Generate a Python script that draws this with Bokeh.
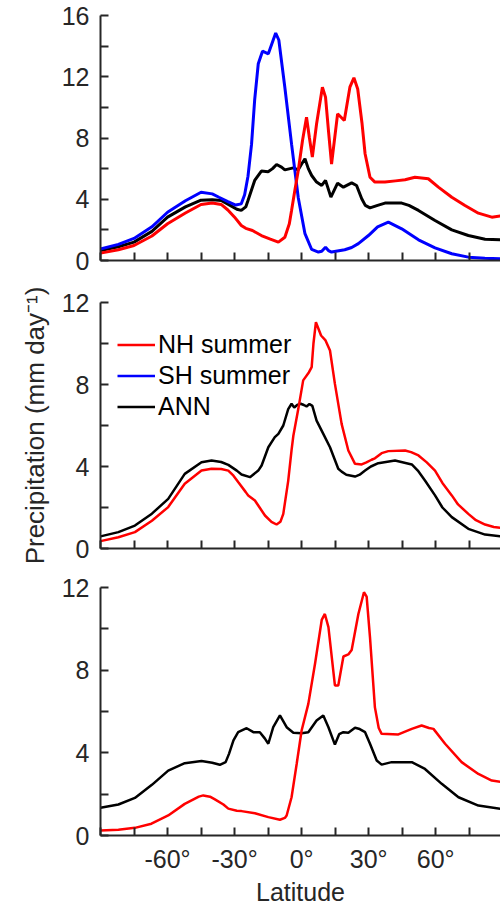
from bokeh.plotting import figure
from bokeh.models import FixedTicker, Legend, LegendItem, Range1d
from bokeh.layouts import column
from bokeh.embed import file_html
from bokeh.resources import INLINE

# ---------------- data ----------------
x_ticks = [-90, -75, -60, -45, -30, -15, 0, 15, 30, 45, 60, 75, 90]
x_tick_labels = {-60: "-60°", -30: "-30°", 0: "0°", 30: "30°", 60: "60°"}

# Top panel
top_red_lat = [-90, -82, -75, -67, -60, -52, -45, -40, -36, -33, -30, -27, -25, -22, -18, -14,
               -10.4, -7.5, -5.5, -4.5, -3, -1.5, 0.4, 2.2, 3.5, 4.8, 6.7, 9.3, 10.7, 12, 13.4,
               16.1, 19.1, 21.6, 23.4, 25.1, 27, 28.4, 30.6, 32.8, 37.3, 42, 46.3, 50.7, 56.7,
               61.2, 67.2, 73.1, 79.1, 85.1, 90]
top_red = [0.48, 0.7, 0.98, 1.6, 2.4, 3.1, 3.66, 3.75, 3.66, 3.3, 2.83, 2.29, 2.1, 1.96, 1.63, 1.4,
           1.2, 1.52, 2.4, 3.27, 4.6, 5.88, 7.84, 9.36, 8.0, 6.75, 8.93, 11.32, 10.67, 8.5, 6.3,
           9.58, 9.14, 11.32, 11.93, 11.2, 9.0, 6.97, 5.44, 5.12, 5.12, 5.2, 5.27, 5.44, 5.34,
           4.79, 4.13, 3.59, 3.09, 2.83, 2.94]

top_blue_lat = [-90, -82, -75, -67, -60, -52, -45, -40, -37, -33, -29.5, -27, -25.5, -24, -22.4,
                -21, -19.4, -17.5, -14.9, -11.6, -10.2, -7.5, -4.5, -1.5, 1.5, 4.5, 7.5, 9, 10.7,
                12, 13.4, 19.3, 22.4, 25.4, 29.9, 34, 38.8, 44.8, 52.3, 59.7, 67.2, 74.6, 82, 90]
top_blue = [0.75, 1.05, 1.44, 2.2, 3.15, 3.9, 4.46, 4.35, 4.13, 3.85, 3.62, 3.7, 4.3, 5.5, 7.6,
            10.5, 12.85, 13.67, 13.5, 14.85, 14.4, 11.3, 7.6, 4.1, 1.75, 0.72, 0.55, 0.6, 0.87,
            0.65, 0.55, 0.7, 0.85, 1.1, 1.63, 2.2, 2.5, 2.07, 1.35, 0.83, 0.44, 0.22, 0.14, 0.1]

top_ann_lat = [-90, -82, -75, -67, -60, -52, -45, -40, -36, -32, -29, -27, -25, -24, -21, -18,
               -15, -13, -11.2, -9, -7.5, -3.7, -1.5, 0, 1.5, 3, 4.5, 6.7, 9, 10.7, 13.1, 16.1,
               18.7, 22.4, 24.6, 26.9, 28.5, 30.6, 34, 37.3, 44.8, 48, 52.3, 59.7, 67.2, 74.6,
               82.1, 90]
top_ann = [0.65, 0.9, 1.2, 1.9, 2.83, 3.5, 3.94, 3.96, 3.92, 3.6, 3.35, 3.27, 3.5, 3.92, 5.23, 5.84,
           5.8, 6.0, 6.27, 6.1, 5.92, 6.05, 5.92, 6.3, 6.64, 6.0, 5.55, 5.12, 4.9, 5.23, 4.14, 5.05,
           4.79, 5.07, 4.9, 4.03, 3.6, 3.44, 3.6, 3.75, 3.75, 3.6, 3.27, 2.61, 2.0, 1.63,
           1.39, 1.35]

# Middle panel
mid_red_lat = [-90, -82, -74.6, -67, -59.7, -52.3, -44.8, -40.3, -36, -32.8, -30.5, -28.4, -25,
               -23.9, -20.9, -18.5, -16.4, -13.5, -11.2, -9.5, -8.2, -6, -4.5, -3.7, -1.5, 0.7,
               3.3, 4.5, 5.3, 6.4, 8.7, 10.7, 12.7, 14.9, 17.9, 20.9, 23.9, 26.9, 29, 31.3, 32.8,
               35.8, 38.8, 46.3, 49, 52.3, 56, 59.7, 63, 67.2, 70, 74.6, 78, 82.1, 86, 90]
mid_red = [0.36, 0.55, 0.8, 1.35, 2.02, 3.16, 3.8, 3.89, 3.88, 3.8, 3.55, 3.24, 2.75,
           2.59, 2.34, 1.95, 1.61, 1.3, 1.17, 1.3, 1.69, 3.3, 4.8, 5.5, 6.8, 8.2,
           8.6, 8.85, 10.0, 11.04, 10.39, 10.15, 9.66, 8.03, 6.08, 4.78, 4.13, 4.1, 4.2, 4.33, 4.4,
           4.65, 4.75, 4.78, 4.7, 4.54, 4.2, 3.8, 3.2, 2.59, 2.15, 1.69, 1.38, 1.17, 1.05, 1.0]

mid_ann_lat = [-90, -82, -74.6, -67, -59.7, -52.3, -44.8, -40.3, -36, -32.8, -29, -26.9, -23.1,
               -19.4, -17.9, -14.9, -12, -10.4, -8.2, -6, -4.5, -3.3, -2, -0.4, 1, 2.2, 3.5, 4.8,
               6.7, 9.7, 12.7, 16.4, 17.9, 20, 23.9, 26, 28.4, 31, 34.3, 41.8, 49.3, 52, 55.2,
               59.7, 63, 67.2, 74.6, 82.1, 90]
mid_ann = [0.59, 0.8, 1.12, 1.7, 2.42, 3.64, 4.21, 4.29, 4.22, 4.08, 3.8, 3.61, 3.48,
           3.8, 4.05, 4.94, 5.43, 5.59, 6.0, 6.8, 7.06, 6.88, 7.0, 7.06, 7.0, 6.93, 7.05, 6.96,
           6.24, 5.59, 4.94, 3.89, 3.75, 3.6, 3.51, 3.6, 3.8, 4.0, 4.16, 4.29, 4.1, 3.8, 3.32,
           2.59, 2.0, 1.53, 0.96, 0.68, 0.58]

# Bottom panel
bot_red_lat = [-90, -82, -74.6, -67.2, -59.7, -52.3, -46, -44, -41, -38.8, -35, -32.8, -29,
               -26.9, -20.9, -14.9, -9.7, -7.5, -6.7, -4.5, -2.2, 0, 3, 6, 9, 10.4, 12, 14.9,
               16.4, 18.7, 20.9, 22.4, 25.4, 27.9, 29.1, 30.6, 32.8, 34.5, 35.8, 43.3, 49.3,
               53.7, 57, 59, 64.2, 71.6, 79.1, 85.1, 90]
bot_red = [0.24, 0.28, 0.37, 0.57, 0.97, 1.53, 1.88, 1.94, 1.88, 1.75, 1.5, 1.3, 1.2,
           1.18, 1.08, 0.89, 0.76, 0.85, 0.97, 1.85, 3.47, 5.08, 6.37, 8.31, 10.43, 10.72, 10.08, 7.26,
           7.26, 8.66, 8.76, 8.98, 10.72, 11.77, 11.56, 9.59, 6.2, 5.2, 4.92, 4.89, 5.16,
           5.32, 5.2, 5.16, 4.44, 3.55, 2.98, 2.66, 2.58]

bot_ann_lat = [-90, -82, -74.6, -67, -59.7, -52.3, -44.8, -40, -36.6, -34, -32.5, -30.5, -28.4,
               -24.6, -21.6, -18.7, -16.5, -14.9, -12.7, -9.7, -6.7, -3.7, 0, 3, 6.7, 9.7, 12,
               14.9, 16.8, 18.7, 20.9, 23.9, 26, 28.4, 30.6, 33.6, 35.8, 40.3, 49.3, 55.2, 62.7,
               70.2, 79.1, 90]
bot_ann = [1.34, 1.5, 1.82, 2.45, 3.14, 3.5, 3.6, 3.52, 3.42, 3.55, 3.95, 4.6, 5.0,
           5.19, 5.0, 5.0, 4.7, 4.44, 5.24, 5.81, 5.24, 4.97, 4.95, 5.0, 5.56, 5.81, 5.24,
           4.4, 4.9, 5.0, 4.97, 5.21, 5.15, 5.0, 4.44, 3.63, 3.43, 3.55, 3.55, 3.22, 2.5,
           1.85, 1.45, 1.28]

legend_labels = ["NH summer", "SH summer", "ANN"]
y_title = "Precipitation (mm day⁻¹)"
x_title = "Latitude"

# ---------------- styling ----------------
FONT = "Liberation Sans"
AXC = "#262626"
FS = "25px"
X_END = 89.0


def make_panel(ymax, ystep, frame_h, b_top, b_bottom, show_xlabels):
    p = figure(frame_width=400, frame_height=frame_h, output_backend="svg",
               toolbar_location=None, x_range=Range1d(-90, X_END), y_range=Range1d(0, ymax),
               min_border_left=100, min_border_right=0, min_border_top=b_top,
               min_border_bottom=b_bottom)
    p.outline_line_color = None
    p.grid.visible = False
    p.background_fill_color = "white"
    p.border_fill_color = "white"

    yt = list(range(0, ymax + 1, ystep // 2))
    p.yaxis.ticker = FixedTicker(ticks=yt)
    p.yaxis.major_label_overrides = {t: (str(t) if t % ystep == 0 else "") for t in yt}
    p.xaxis.ticker = FixedTicker(ticks=x_ticks)
    if show_xlabels:
        p.xaxis.major_label_overrides = {t: x_tick_labels.get(t, "") for t in x_ticks}
    else:
        p.xaxis.major_label_overrides = {t: "" for t in x_ticks}
        p.xaxis.major_label_text_font_size = "0px"

    for ax in (p.xaxis[0], p.yaxis[0]):
        ax.axis_line_color = AXC
        ax.axis_line_width = 2
        ax.major_tick_line_color = AXC
        ax.major_tick_line_width = 2
        ax.major_tick_in = 8
        ax.major_tick_out = 0
        ax.minor_tick_line_color = None
        ax.major_label_text_color = AXC
        ax.major_label_text_font = FONT
        ax.axis_label_text_font = FONT
        ax.axis_label_text_font_size = FS
        ax.axis_label_text_font_style = "normal"
        ax.axis_label_text_color = AXC
    p.yaxis.major_label_text_font_size = FS
    p.yaxis.major_label_standoff = 11
    if show_xlabels:
        p.xaxis.major_label_text_font_size = FS
        p.xaxis.major_label_standoff = 9
    return p


p1 = make_panel(16, 4, 245, 15, 21, False)
p1.line(top_ann_lat, top_ann, line_color="black", line_width=3)
p1.line(top_blue_lat, top_blue, line_color="#0000ff", line_width=3)
p1.line(top_red_lat, top_red, line_color="#ff0000", line_width=3)

p2 = make_panel(12, 4, 246, 21, 20, False)
r_ann = p2.line(mid_ann_lat, mid_ann, line_color="black", line_width=2.5)
r_red = p2.line(mid_red_lat, mid_red, line_color="#ff0000", line_width=2.5)
# SH summer has no curve in this panel; it only appears as a legend entry
r_blue = p2.line(x=[float("nan")], y=[float("nan")], line_color="#0000ff", line_width=2.5)
p2.yaxis.axis_label = y_title
p2.yaxis.axis_label_text_font_size = "26px"
p2.yaxis.axis_label_standoff = 9

legend = Legend(items=[LegendItem(label=legend_labels[0], renderers=[r_red]),
                       LegendItem(label=legend_labels[1], renderers=[r_blue]),
                       LegendItem(label=legend_labels[2], renderers=[r_ann])],
                location=(17, 126), glyph_width=38, glyph_height=31, label_height=31,
                label_standoff=3, spacing=0, padding=0, margin=0,
                border_line_color=None, background_fill_alpha=0,
                label_text_font=FONT, label_text_font_size=FS, label_text_color="black")
p2.add_layout(legend)

p3 = make_panel(12, 4, 248, 19, 69, True)
p3.line(bot_ann_lat, bot_ann, line_color="black", line_width=2.5)
p3.line(bot_red_lat, bot_red, line_color="#ff0000", line_width=2.5)
p3.xaxis.axis_label = x_title
p3.xaxis.axis_label_standoff = 2

layout = column(p1, p2, p3, spacing=0)
open("out.html", "w").write(file_html(layout, INLINE))
